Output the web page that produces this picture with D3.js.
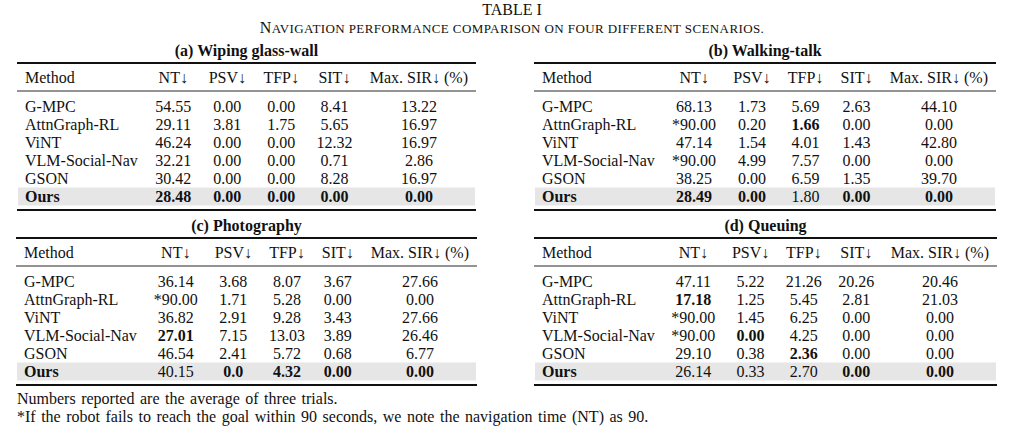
<!DOCTYPE html>
<html>
<head>
<meta charset="utf-8">
<script src="https://cdnjs.cloudflare.com/ajax/libs/d3/7.8.5/d3.min.js"></script>
<style>
  body { margin: 0; background: #fff; }
  svg text { font-family: "Liberation Serif", "Times New Roman", serif; fill: #111; }
</style>
</head>
<body>
<div id="table-container"></div>
<script>
// Table data
const methods = ['G-MPC', 'AttnGraph-RL', 'ViNT', 'VLM-Social-Nav', 'GSON', 'Ours'];
const headers = ['Method', 'NT↓', 'PSV↓', 'TFP↓', 'SIT↓', 'Max. SIR↓ (%)'];

// (a) Wiping glass-wall
const wipingValues = [
    ['54.55', '0.00', '0.00', '8.41', '13.22'],
    ['29.11', '3.81', '1.75', '5.65', '16.97'],
    ['46.24', '0.00', '0.00', '12.32', '16.97'],
    ['32.21', '0.00', '0.00', '0.71', '2.86'],
    ['30.42', '0.00', '0.00', '8.28', '16.97'],
    ['28.48', '0.00', '0.00', '0.00', '0.00']
];
const wipingBold = [[5, 0], [5, 1], [5, 2], [5, 3], [5, 4]];

// (b) Walking-talk
const walkingValues = [
    ['68.13', '1.73', '5.69', '2.63', '44.10'],
    ['*90.00', '0.20', '1.66', '0.00', '0.00'],
    ['47.14', '1.54', '4.01', '1.43', '42.80'],
    ['*90.00', '4.99', '7.57', '0.00', '0.00'],
    ['38.25', '0.00', '6.59', '1.35', '39.70'],
    ['28.49', '0.00', '1.80', '0.00', '0.00']
];
const walkingBold = [[1, 2], [5, 0], [5, 1], [5, 3], [5, 4]];

// (c) Photography
const photoValues = [
    ['36.14', '3.68', '8.07', '3.67', '27.66'],
    ['*90.00', '1.71', '5.28', '0.00', '0.00'],
    ['36.82', '2.91', '9.28', '3.43', '27.66'],
    ['27.01', '7.15', '13.03', '3.89', '26.46'],
    ['46.54', '2.41', '5.72', '0.68', '6.77'],
    ['40.15', '0.0', '4.32', '0.00', '0.00']
];
const photoBold = [[3, 0], [5, 1], [5, 2], [5, 3], [5, 4]];

// (d) Queuing
const queuingValues = [
    ['47.11', '5.22', '21.26', '20.26', '20.46'],
    ['17.18', '1.25', '5.45', '2.81', '21.03'],
    ['*90.00', '1.45', '6.25', '0.00', '0.00'],
    ['*90.00', '0.00', '4.25', '0.00', '0.00'],
    ['29.10', '0.38', '2.36', '0.00', '0.00'],
    ['26.14', '0.33', '2.70', '0.00', '0.00']
];
const queuingBold = [[1, 0], [3, 1], [4, 2], [5, 3], [5, 4]];

const tableLabel = 'TABLE I';
const tableCaption = 'Navigation performance comparison on four different scenarios.';
const notes = [
    'Numbers reported are the average of three trials.',
    '*If the robot fails to reach the goal within 90 seconds, we note the navigation time (NT) as 90.'
];

// Layout
const svg_width = 1024;
const svg_height = 433;
const fontSize = 16;
const rowH = 18;

const svg = d3.select('#table-container').append('svg')
    .attr('width', svg_width).attr('height', svg_height);

const tables = [
    { title: '(a) Wiping glass-wall', values: wipingValues, bold: wipingBold, x0: 17, x1: 476, top: 63 },
    { title: '(b) Walking-talk', values: walkingValues, bold: walkingBold, x0: 534, x1: 996, top: 63 },
    { title: '(c) Photography', values: photoValues, bold: photoBold, x0: 16, x1: 477, top: 238 },
    { title: '(d) Queuing', values: queuingValues, bold: queuingBold, x0: 534, x1: 997, top: 238 }
];

// text width helper
const probe = svg.append('text').style('font-size', fontSize + 'px');
function textWidth(s, weight) {
    probe.style('font-weight', weight).text(s);
    return probe.node().getComputedTextLength();
}

// Header
svg.append('text').attr('x', svg_width / 2).attr('y', 15)
    .attr('text-anchor', 'middle').style('font-size', '16px').text(tableLabel);

// small caps done by hand: capitals full size, the rest as smaller capitals
const capRuns = [];
tableCaption.split('').forEach(ch => {
    const big = ch !== ch.toLowerCase();
    const last = capRuns[capRuns.length - 1];
    if (last && last.big === big) last.s += ch;
    else capRuns.push({ big, s: ch });
});
svg.append('text').attr('x', svg_width / 2).attr('y', 33)
    .attr('text-anchor', 'middle')
    .style('letter-spacing', '0.4px')
    .selectAll('tspan').data(capRuns).enter()
    .append('tspan')
    .style('font-size', d => d.big ? '16px' : '13px')
    .text(d => d.s.toUpperCase());

function drawTable(t) {
    const isBold = (r, c) => t.bold.some(b => b[0] === r && b[1] === c);
    // column widths = widest content (LaTeX style), free space spread over gaps
    const widths = headers.map((h, c) => {
        const cells = c === 0
            ? methods.map((m, r) => textWidth(m, r === 5 ? 'bold' : 'normal'))
            : t.values.map((row, r) => textWidth(row[c - 1], isBold(r, c - 1) ? 'bold' : 'normal'));
        return d3.max(cells.concat([textWidth(h, 'normal')]));
    });
    const pad = 8;
    const gap = (t.x1 - t.x0 - 2 * pad - d3.sum(widths)) / (headers.length - 1);
    const lefts = [];
    let cur = t.x0 + pad;
    widths.forEach(w => { lefts.push(cur); cur += w + gap; });
    const xCol = d3.scaleOrdinal().domain(d3.range(headers.length))
        .range(lefts.map((l, i) => i === 0 ? l : l + widths[i] / 2));

    const yRow = d3.scaleBand().domain(methods)
        .range([t.top + 34, t.top + 34 + methods.length * rowH]);

    const g = svg.append('g').attr('class', 'sub-table');

    // title
    g.append('text').attr('x', (t.x0 + t.x1) / 2).attr('y', t.top - 7)
        .attr('text-anchor', 'middle').style('font-size', '16px').style('font-weight', 'bold')
        .text(t.title);

    // shaded row
    g.append('rect').attr('x', t.x0 + 1).attr('width', t.x1 - t.x0 - 2)
        .attr('y', yRow('Ours') + 0.5).attr('height', yRow.bandwidth())
        .style('fill', '#e6e6e6');

    // rules
    const bottom = yRow.range()[1] + 5;
    [[t.top, 1.8], [t.top + 28, 0.9], [bottom, 1.8]].forEach(([y, w]) => {
        g.append('line').attr('x1', t.x0).attr('x2', t.x1).attr('y1', y).attr('y2', y)
            .style('stroke', '#111').style('stroke-width', w);
    });

    // column headers
    g.selectAll('.col-head').data(headers).enter()
        .append('text').attr('class', 'col-head')
        .attr('x', (d, i) => xCol(i))
        .attr('y', t.top + 14 + 5.5)
        .attr('text-anchor', (d, i) => i === 0 ? 'start' : 'middle')
        .style('font-size', fontSize + 'px')
        .text(d => d);

    // method names
    g.selectAll('.method').data(methods).enter()
        .append('text').attr('class', 'method')
        .attr('x', xCol(0))
        .attr('y', d => yRow(d) + yRow.bandwidth() / 2 + 5.5)
        .style('font-size', fontSize + 'px')
        .style('font-weight', d => d === 'Ours' ? 'bold' : 'normal')
        .text(d => d);

    // values
    const cells = [];
    t.values.forEach((row, r) => row.forEach((v, c) => cells.push({ r, c, v })));
    g.selectAll('.cell').data(cells).enter()
        .append('text').attr('class', 'cell')
        .attr('x', d => xCol(d.c + 1))
        .attr('y', d => yRow(methods[d.r]) + yRow.bandwidth() / 2 + 5.5)
        .attr('text-anchor', 'middle')
        .style('font-size', fontSize + 'px')
        .style('font-weight', d => isBold(d.r, d.c) ? 'bold' : 'normal')
        .text(d => d.v);
}

tables.forEach(drawTable);
probe.remove();

// Footnotes
svg.selectAll('.note').data(notes).enter()
    .append('text').attr('class', 'note')
    .attr('x', 17).attr('y', (d, i) => 404 + i * 18)
    .style('font-size', '16px')
    .style('word-spacing', '1.5px')
    .text(d => d);
</script>
</body>
</html>
